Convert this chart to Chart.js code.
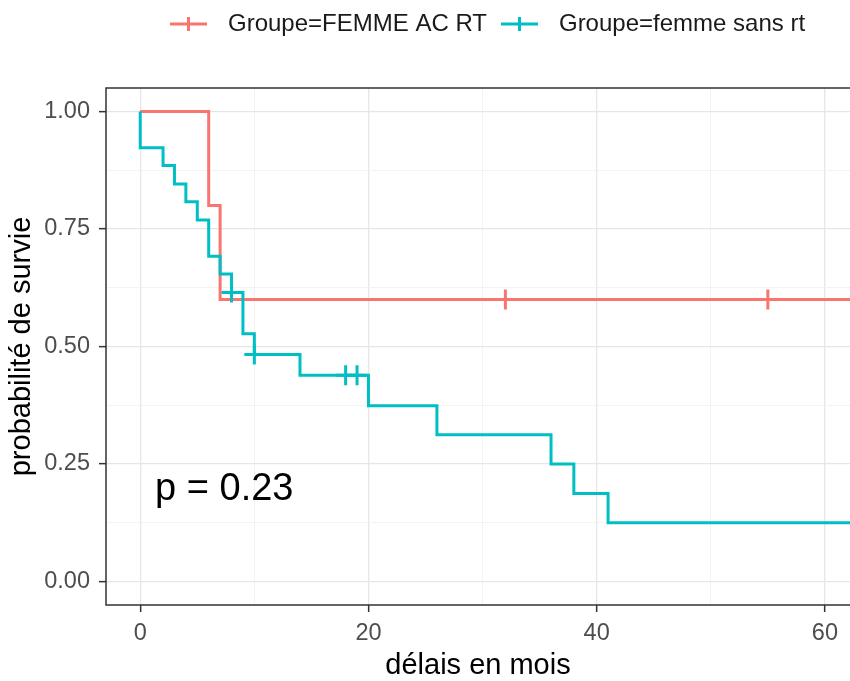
<!DOCTYPE html>
<html lang="fr">
<head>
<meta charset="utf-8">
<title>Courbes de survie</title>
<script src="https://cdn.jsdelivr.net/npm/chart.js@4.4.1/dist/chart.umd.min.js"></script>
<style>
  html, body { margin: 0; padding: 0; background: #fff; overflow: hidden; }
  #wrap { width: 850px; height: 681px; position: relative; }
  #wrap canvas { display: block; }
</style>
</head>
<body>
<div id="wrap"><canvas id="survieGraph"></canvas></div>
<script>
// valeurs (temps en mois, probabilite de survie)
var groupes = ["Groupe=FEMME AC RT", "Groupe=femme sans rt"];
var couleurs = ["#F8766D", "#00BFC4"];

var tempsAcRt = [0, 6, 7, 70];
var survieAcRt = [1, 0.8, 0.6, 0.6];
var censureTempsAcRt = [32, 55];
var censureSurvieAcRt = [0.6, 0.6];

var tempsSansRt = [0, 0, 2, 3, 4, 5, 6, 7, 8, 9, 10, 14, 20, 26, 36, 38, 41, 70];
var survieSansRt = [1, 0.923, 0.885, 0.846, 0.808, 0.769, 0.692, 0.654, 0.615, 0.527, 0.483, 0.439, 0.374, 0.312, 0.25, 0.187, 0.125, 0.125];
var censureTempsSansRt = [8, 10, 18, 19];
var censureSurvieSansRt = [0.615, 0.483, 0.439, 0.439];

var ticksX = [0, 10, 20, 30, 40, 50, 60];
var ticksY = [0, 0.125, 0.25, 0.375, 0.5, 0.625, 0.75, 0.875, 1];
var pValeur = "p = 0.23";

var police = "'Liberation Sans', Arial, sans-serif";

function points(xs, ys) {
  return xs.map(function (t, i) { return { x: t, y: ys[i] }; });
}
function majeurX(v) { return v % 20 === 0; }
function majeurY(v) { return Math.abs(v * 4 - Math.round(v * 4)) < 1e-9; }

// cadre du panneau (gauche, haut, bas)
var cadrePlugin = {
  id: "cadre",
  afterDatasetsDraw: function (chart) {
    var a = chart.chartArea, ctx = chart.ctx;
    ctx.save();
    ctx.strokeStyle = "#333333";
    ctx.lineWidth = 1.5;
    ctx.beginPath();
    ctx.moveTo(a.right + 2, a.top);
    ctx.lineTo(a.left, a.top);
    ctx.lineTo(a.left, a.bottom);
    ctx.lineTo(a.right + 2, a.bottom);
    ctx.stroke();
    ctx.restore();
  }
};

// legende en haut avec ligne + croix
var legendePlugin = {
  id: "legende",
  afterDraw: function (chart) {
    var ctx = chart.ctx;
    ctx.save();
    ctx.font = "24px " + police;
    ctx.textBaseline = "middle";
    ctx.textAlign = "left";
    var x = 170, y = 24;
    groupes.forEach(function (nom, i) {
      ctx.strokeStyle = couleurs[i];
      ctx.lineWidth = 3;
      ctx.beginPath();
      ctx.moveTo(x, y);
      ctx.lineTo(x + 37, y);
      ctx.moveTo(x + 18.5, y - 7);
      ctx.lineTo(x + 18.5, y + 7);
      ctx.stroke();
      ctx.fillStyle = "#1a1a1a";
      ctx.fillText(nom, x + 58, y);
      x += 58 + ctx.measureText(nom).width + 14;
    });
    ctx.restore();
  }
};

var pValeurPlugin = {
  id: "pValeur",
  afterDatasetsDraw: function (chart) {
    var ctx = chart.ctx;
    var x = chart.scales.x.getPixelForValue(1.3);
    var y = chart.scales.y.getPixelForValue(0.195);
    ctx.save();
    ctx.font = "38px " + police;
    ctx.fillStyle = "#000";
    ctx.textBaseline = "middle";
    ctx.fillText(pValeur, x, y);
    ctx.restore();
  }
};

document.addEventListener("DOMContentLoaded", function () {
  var ctx = document.getElementById("survieGraph").getContext("2d");
  new Chart(ctx, {
    type: "line",
    data: {
      datasets: [
        {
          label: groupes[0],
          data: points(tempsAcRt, survieAcRt),
          borderColor: couleurs[0],
          borderWidth: 3,
          stepped: "before",
          pointRadius: 0,
          fill: false,
          order: 3
        },
        {
          label: groupes[1],
          data: points(tempsSansRt, survieSansRt),
          borderColor: couleurs[1],
          borderWidth: 3,
          stepped: "before",
          pointRadius: 0,
          fill: false,
          order: 2
        },
        {
          label: groupes[0] + " censure",
          data: points(censureTempsAcRt, censureSurvieAcRt),
          showLine: false,
          pointStyle: "cross",
          pointRadius: 10,
          pointBorderWidth: 3,
          pointBorderColor: couleurs[0],
          borderColor: couleurs[0],
          order: 1
        },
        {
          label: groupes[1] + " censure",
          data: points(censureTempsSansRt, censureSurvieSansRt),
          showLine: false,
          pointStyle: "cross",
          pointRadius: 10,
          pointBorderWidth: 3,
          pointBorderColor: couleurs[1],
          borderColor: couleurs[1],
          order: 0
        }
      ]
    },
    options: {
      responsive: true,
      maintainAspectRatio: false,
      animation: false,
      layout: { autoPadding: false, padding: { top: 88, left: 0, right: 0, bottom: 0 } },
      plugins: {
        legend: { display: false },
        tooltip: { enabled: false }
      },
      scales: {
        x: {
          type: "linear",
          min: -3,
          max: 62.2,
          afterBuildTicks: function (scale) {
            scale.ticks = ticksX.map(function (v) { return { value: v }; });
          },
          afterFit: function (scale) {
            scale.height = 76;
            scale.paddingLeft = 0;
            scale.paddingRight = 0;
          },
          border: { display: false },
          grid: {
            color: function (c) { return c.tick && majeurX(c.tick.value) ? "#E6E6E6" : "#F0F0F0"; },
            lineWidth: function (c) { return c.tick && majeurX(c.tick.value) ? 1.3 : 0.8; },
            tickColor: function (c) { return c.tick && majeurX(c.tick.value) ? "#333333" : "rgba(0,0,0,0)"; },
            tickLength: 7,
            tickWidth: 1.5
          },
          ticks: {
            autoSkip: false,
            maxRotation: 0,
            padding: 7,
            color: "#4D4D4D",
            font: { family: police, size: 23.5 },
            callback: function (v) { return majeurX(v) ? String(v) : ""; }
          },
          title: {
            display: true,
            text: "délais en mois",
            color: "#000",
            font: { family: police, size: 29 },
            padding: { top: 0, bottom: -2 }
          }
        },
        y: {
          type: "linear",
          min: -0.05,
          max: 1.05,
          afterBuildTicks: function (scale) {
            scale.ticks = ticksY.map(function (v) { return { value: v }; });
          },
          afterFit: function (scale) {
            scale.width = 106;
            scale.paddingTop = 0;
            scale.paddingBottom = 0;
          },
          border: { display: false },
          grid: {
            color: function (c) { return c.tick && majeurY(c.tick.value) ? "#E6E6E6" : "#F0F0F0"; },
            lineWidth: function (c) { return c.tick && majeurY(c.tick.value) ? 1.3 : 0.8; },
            tickColor: function (c) { return c.tick && majeurY(c.tick.value) ? "#333333" : "rgba(0,0,0,0)"; },
            tickLength: 7,
            tickWidth: 1.5
          },
          ticks: {
            autoSkip: false,
            padding: 9,
            color: "#4D4D4D",
            font: { family: police, size: 23.5 },
            callback: function (v) { return majeurY(v) ? v.toFixed(2) : ""; }
          },
          title: {
            display: true,
            text: "probabilité de survie",
            color: "#000",
            font: { family: police, size: 29 },
            padding: { top: 5, bottom: 0 }
          }
        }
      }
    },
    plugins: [cadrePlugin, legendePlugin, pValeurPlugin]
  });
});
</script>
</body>
</html>
